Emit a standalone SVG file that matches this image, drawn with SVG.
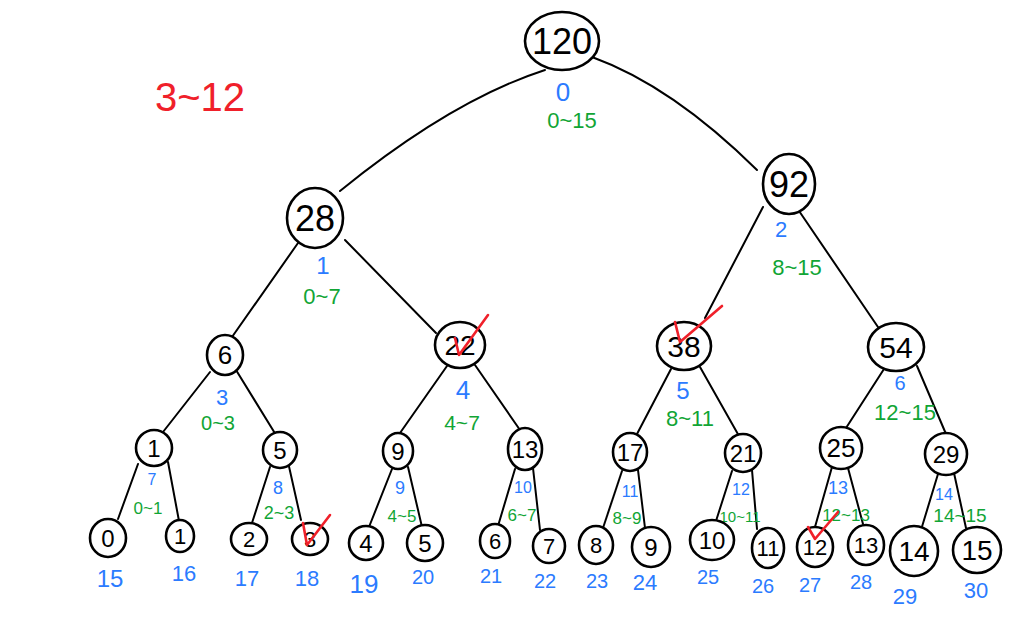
<svg xmlns="http://www.w3.org/2000/svg" width="1036" height="622" viewBox="0 0 1036 622">
<style>
.n{fill:#fff;stroke:#000;stroke-width:2.6}
.t{font-family:"Liberation Sans","DejaVu Sans",sans-serif;fill:#000;text-anchor:middle;dominant-baseline:central}
.b{font-family:"Liberation Sans","DejaVu Sans",sans-serif;fill:#2b7bff;text-anchor:middle;dominant-baseline:central}
.g{font-family:"Liberation Sans","DejaVu Sans",sans-serif;fill:#11a535;text-anchor:middle;dominant-baseline:central}
.e{fill:none;stroke:#000;stroke-width:2;stroke-linecap:round}
.chk{fill:none;stroke:#f0202a;stroke-width:2.6;stroke-linecap:round;stroke-linejoin:round}
</style>
<rect width="1036" height="622" fill="#fff"/>
<text x="200" y="97" font-family="Liberation Sans,DejaVu Sans,sans-serif" font-size="40" fill="#f0202a" text-anchor="middle" dominant-baseline="central">3~12</text>
<g id="connectors">
<path class="e" d="M545 70 Q452 100 340 191"/>
<path class="e" d="M592 57 Q672 86 757 170"/>
<path class="e" d="M298 243 L232 337"/>
<path class="e" d="M345 240 L436 333"/>
<path class="e" d="M763 207 L705 318"/>
<path class="e" d="M795 205 L880 330"/>
<path class="e" d="M210 372 L163 432"/>
<path class="e" d="M236 370 L276 435"/>
<path class="e" d="M447 366 L400 433"/>
<path class="e" d="M475 365 L520 430"/>
<path class="e" d="M671 369 L637 434"/>
<path class="e" d="M700 367 L739 436"/>
<path class="e" d="M884 369 L846 428"/>
<path class="e" d="M917 366 L946 434"/>
<path class="e" d="M138 464 L118 519"/>
<path class="e" d="M168 462 L179 521"/>
<path class="e" d="M270 467 L252 523"/>
<path class="e" d="M288 462 L301 520"/>
<path class="e" d="M392 469 L369 527"/>
<path class="e" d="M408 467 L422 527"/>
<path class="e" d="M515 469 L498 526"/>
<path class="e" d="M533 468 L540 530"/>
<path class="e" d="M622 471 L603 528"/>
<path class="e" d="M638 470 L645 528"/>
<path class="e" d="M732 471 L716 521"/>
<path class="e" d="M752 470 L757 529"/>
<path class="e" d="M832 467 L815 527"/>
<path class="e" d="M848 468 L863 524"/>
<path class="e" d="M938 474 L921 530"/>
<path class="e" d="M954 473 L966 528"/>
</g>
<g id="n0"><ellipse class="n" cx="562" cy="41" rx="37" ry="29"/><text class="t" x="562" y="41" font-size="36">120</text><text class="b" x="563" y="92" font-size="26">0</text><text class="g" x="572" y="120" font-size="22">0~15</text></g>
<g id="n1"><ellipse class="n" cx="315" cy="218" rx="28" ry="30"/><text class="t" x="315" y="218" font-size="36">28</text><text class="b" x="323" y="265" font-size="24">1</text><text class="g" x="322" y="296" font-size="22">0~7</text></g>
<g id="n2"><ellipse class="n" cx="789" cy="184" rx="26" ry="30"/><text class="t" x="789" y="184" font-size="36">92</text><text class="b" x="781" y="229" font-size="22">2</text><text class="g" x="797" y="267" font-size="22">8~15</text></g>
<g id="n3"><ellipse class="n" cx="225" cy="355" rx="18" ry="20"/><text class="t" x="225" y="355" font-size="26">6</text><text class="b" x="222" y="397" font-size="22">3</text><text class="g" x="218" y="423" font-size="20">0~3</text></g>
<g id="n4"><ellipse class="n" cx="460" cy="345" rx="25" ry="23"/><text class="t" x="460" y="345" font-size="28">22</text><text class="b" x="463" y="390" font-size="26">4</text><text class="g" x="462" y="422" font-size="21">4~7</text><path class="chk" d="M455 338 L459 355 L488 315"/></g>
<g id="n5"><ellipse class="n" cx="684" cy="346" rx="27" ry="24"/><text class="t" x="684" y="346" font-size="30">38</text><text class="b" x="683" y="390" font-size="24">5</text><text class="g" x="690" y="418" font-size="22">8~11</text><path class="chk" d="M675 322 L680 342 L722 306"/></g>
<g id="n6"><ellipse class="n" cx="896" cy="347" rx="28" ry="24"/><text class="t" x="896" y="347" font-size="30">54</text><text class="b" x="900" y="383" font-size="20">6</text><text class="g" x="905" y="412" font-size="22">12~15</text></g>
<g id="n7"><ellipse class="n" cx="154" cy="448" rx="18" ry="18"/><text class="t" x="154" y="448" font-size="24">1</text><text class="b" x="152" y="479" font-size="16">7</text><text class="g" x="148" y="508" font-size="17">0~1</text></g>
<g id="n8"><ellipse class="n" cx="280" cy="450" rx="17" ry="18"/><text class="t" x="280" y="450" font-size="24">5</text><text class="b" x="278" y="488" font-size="18">8</text><text class="g" x="279" y="513" font-size="18">2~3</text></g>
<g id="n9"><ellipse class="n" cx="398" cy="451" rx="15" ry="18"/><text class="t" x="398" y="451" font-size="24">9</text><text class="b" x="400" y="488" font-size="18">9</text><text class="g" x="402" y="516" font-size="17">4~5</text></g>
<g id="n10"><ellipse class="n" cx="525" cy="449" rx="17" ry="21"/><text class="t" x="525" y="449" font-size="24">13</text><text class="b" x="523" y="487" font-size="16">10</text><text class="g" x="522" y="515" font-size="17">6~7</text></g>
<g id="n11"><ellipse class="n" cx="630" cy="452" rx="17" ry="19"/><text class="t" x="630" y="452" font-size="24">17</text><text class="b" x="630" y="491" font-size="16">11</text><text class="g" x="627" y="518" font-size="17">8~9</text></g>
<g id="n12"><ellipse class="n" cx="743" cy="453" rx="18" ry="19"/><text class="t" x="743" y="453" font-size="24">21</text><text class="b" x="741" y="489" font-size="16">12</text><text class="g" x="740" y="516" font-size="15">10~11</text></g>
<g id="n13"><ellipse class="n" cx="841" cy="448" rx="21" ry="21"/><text class="t" x="841" y="448" font-size="26">25</text><text class="b" x="838" y="488" font-size="18">13</text><text class="g" x="846" y="515" font-size="17">12~13</text></g>
<g id="n14"><ellipse class="n" cx="946" cy="454" rx="21" ry="21"/><text class="t" x="946" y="454" font-size="24">29</text><text class="b" x="944" y="494" font-size="16">14</text><text class="g" x="960" y="515" font-size="19">14~15</text></g>
<g id="n15"><ellipse class="n" cx="108" cy="538" rx="18" ry="19"/><text class="t" x="108" y="538" font-size="24">0</text><text class="b" x="110" y="578" font-size="24">15</text></g>
<g id="n16"><ellipse class="n" cx="180" cy="536" rx="14" ry="16"/><text class="t" x="180" y="536" font-size="22">1</text><text class="b" x="184" y="573" font-size="22">16</text></g>
<g id="n17"><ellipse class="n" cx="249" cy="539" rx="18" ry="16"/><text class="t" x="249" y="539" font-size="22">2</text><text class="b" x="247" y="578" font-size="22">17</text></g>
<g id="n18"><ellipse class="n" cx="310" cy="539" rx="18" ry="16"/><text class="t" x="310" y="539" font-size="22">3</text><text class="b" x="307" y="578" font-size="22">18</text><path class="chk" d="M303 523 L307 545 L330 515"/></g>
<g id="n19"><ellipse class="n" cx="366" cy="543" rx="17" ry="17"/><text class="t" x="366" y="543" font-size="24">4</text><text class="b" x="364" y="584" font-size="26">19</text></g>
<g id="n20"><ellipse class="n" cx="425" cy="543" rx="18" ry="18"/><text class="t" x="425" y="543" font-size="24">5</text><text class="b" x="423" y="577" font-size="20">20</text></g>
<g id="n21"><ellipse class="n" cx="495" cy="541" rx="15" ry="17"/><text class="t" x="495" y="541" font-size="22">6</text><text class="b" x="491" y="576" font-size="20">21</text></g>
<g id="n22"><ellipse class="n" cx="549" cy="546" rx="16" ry="17"/><text class="t" x="549" y="546" font-size="22">7</text><text class="b" x="545" y="581" font-size="20">22</text></g>
<g id="n23"><ellipse class="n" cx="596" cy="545" rx="17" ry="19"/><text class="t" x="596" y="545" font-size="22">8</text><text class="b" x="597" y="581" font-size="20">23</text></g>
<g id="n24"><ellipse class="n" cx="651" cy="547" rx="19" ry="20"/><text class="t" x="651" y="547" font-size="24">9</text><text class="b" x="645" y="582" font-size="22">24</text></g>
<g id="n25"><ellipse class="n" cx="712" cy="540" rx="22" ry="20"/><text class="t" x="712" y="540" font-size="24">10</text><text class="b" x="708" y="577" font-size="20">25</text></g>
<g id="n26"><ellipse class="n" cx="768" cy="548" rx="16" ry="20"/><text class="t" x="768" y="548" font-size="22">11</text><text class="b" x="763" y="586" font-size="20">26</text></g>
<g id="n27"><ellipse class="n" cx="815" cy="547" rx="18" ry="20"/><text class="t" x="815" y="547" font-size="22">12</text><text class="b" x="810" y="585" font-size="20">27</text><path class="chk" d="M808 527 L815 539 L838 512"/></g>
<g id="n28"><ellipse class="n" cx="866" cy="545" rx="18" ry="20"/><text class="t" x="866" y="545" font-size="22">13</text><text class="b" x="861" y="582" font-size="20">28</text></g>
<g id="n29"><ellipse class="n" cx="914" cy="551" rx="24" ry="25"/><text class="t" x="914" y="551" font-size="28">14</text><text class="b" x="905" y="596" font-size="22">29</text></g>
<g id="n30"><ellipse class="n" cx="977" cy="550" rx="24" ry="23"/><text class="t" x="977" y="550" font-size="28">15</text><text class="b" x="976" y="590" font-size="22">30</text></g>
</svg>
